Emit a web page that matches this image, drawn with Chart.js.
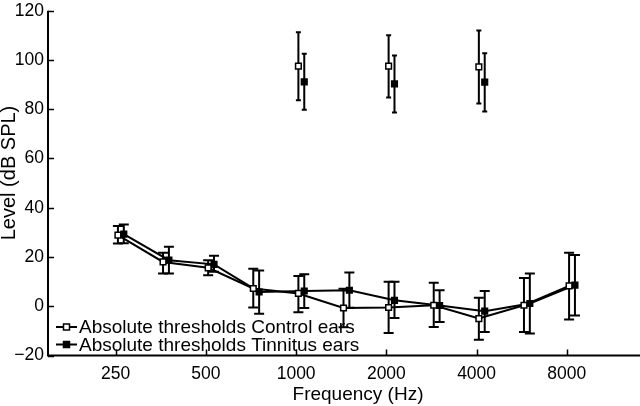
<!DOCTYPE html>
<html>
<head>
<meta charset="utf-8">
<script src="https://cdn.jsdelivr.net/npm/chart.js@4"></script>
<style>
  html, body { margin: 0; padding: 0; background: #fff; }
</style>
</head>
<body>
<canvas id="thresholdChart" width="640" height="406"></canvas>
<script>
// test frequencies (plotted by position index)
const freqs = ["250", "375", "500", "750", "1000", "1500", "2000", "3000", "4000", "6000", "8000"];

const controlMean = [28.9, 18.0, 15.6, 7.2, 5.2, -0.7, -0.5, 0.4, -5.0, 0.4, 8.3];
const controlLow = [25.5, 13.3, 12.6, -0.5, -2.4, -8.5, -10.9, -8.4, -13.6, -10.5, -5.4];
const controlHigh = [32.6, 21.7, 18.7, 15.2, 12.3, 7.1, 9.9, 9.5, 3.4, 11.5, 21.7];

const tinnitusMean = [29.3, 18.7, 17.0, 5.8, 6.2, 6.5, 2.4, 0.3, -2.0, 1.1, 8.6];
const tinnitusLow = [25.6, 13.3, 14.0, -3.0, -0.7, -0.6, -4.8, -6.4, -10.5, -11.1, -3.8];
const tinnitusHigh = [33.2, 24.2, 20.5, 14.5, 13.0, 13.7, 9.9, 6.5, 6.2, 13.3, 20.8];

// upper points at 1000, 2000, 4000 Hz
const upperIdx = [4, 6, 8];
const controlUpperMean = [97.5, 97.5, 97.2];
const controlUpperLow = [83.6, 84.8, 82.3];
const controlUpperHigh = [111.3, 110.0, 112.0];
const tinnitusUpperMean = [91.1, 90.3, 91.0];
const tinnitusUpperLow = [79.8, 78.7, 79.1];
const tinnitusUpperHigh = [102.5, 101.8, 102.7];

const tickLabels = ["250", "500", "1000", "2000", "4000", "8000"];
const yTicks = [-20, 0, 20, 40, 60, 80, 100, 120];

const xTitle = "Frequency (Hz)";
const yTitle = "Level (dB SPL)";

const CONTROL_SHIFT = 0.05;
const TINNITUS_SHIFT = 0.18;
// each labelled octave sits on an even index
const tickPos = tickLabels.map(f => freqs.indexOf(f));

const FONT = "'Liberation Sans', Arial, Helvetica, sans-serif";

function pts(idx, ys, lo, hi, shift) {
  return ys.map((y, i) => ({ x: idx[i] + shift, y: y, lo: lo[i], hi: hi[i] }));
}
const allIdx = freqs.map((f, i) => i);

const errorBars = {
  id: "errorBars",
  beforeDatasetsDraw(chart) {
    const ctx = chart.ctx;
    const ys = chart.scales.y;
    ctx.save();
    ctx.strokeStyle = "#000";
    ctx.lineWidth = 2;
    chart.data.datasets.forEach((ds, di) => {
      const meta = chart.getDatasetMeta(di);
      meta.data.forEach((el, i) => {
        const p = ds.data[i];
        const x = el.x;
        const top = ys.getPixelForValue(p.hi);
        const bot = ys.getPixelForValue(p.lo);
        const cap = ds.capWidth;
        ctx.beginPath();
        ctx.moveTo(x, top); ctx.lineTo(x, bot);
        ctx.moveTo(x - cap, top); ctx.lineTo(x + cap, top);
        ctx.moveTo(x - cap, bot); ctx.lineTo(x + cap, bot);
        ctx.stroke();
      });
    });
    ctx.restore();
  }
};

// left and bottom axis lines, inward ticks, axis titles
const axisExtras = {
  id: "axisExtras",
  afterDraw(chart) {
    const ctx = chart.ctx;
    const xs = chart.scales.x, ys = chart.scales.y;
    const area = chart.chartArea;
    ctx.save();
    ctx.strokeStyle = "#000";
    ctx.lineWidth = 2;
    ctx.beginPath();
    ctx.moveTo(area.left, area.top);
    ctx.lineTo(area.left, area.bottom);
    ctx.lineTo(chart.width, area.bottom);
    ctx.stroke();

    ctx.lineWidth = 1.5;
    ctx.beginPath();
    xs.ticks.forEach(t => {
      const px = Math.round(xs.getPixelForValue(t.value)) + 0.5;
      ctx.moveTo(px, area.bottom); ctx.lineTo(px, area.bottom - 6);
    });
    ys.ticks.forEach(t => {
      const py = Math.round(ys.getPixelForValue(t.value)) + 0.5;
      ctx.moveTo(area.left, py); ctx.lineTo(area.left + 6, py);
    });
    ctx.stroke();

    ctx.fillStyle = "#000";
    ctx.font = "19px " + FONT;
    ctx.textAlign = "center";
    ctx.textBaseline = "alphabetic";
    ctx.fillText(xTitle, 358, 400);
    ctx.translate(15, 173);
    ctx.rotate(-Math.PI / 2);
    ctx.font = "20px " + FONT;
    ctx.fillText(yTitle, 0, 0);
    ctx.restore();
  }
};

const insideLegend = {
  id: "insideLegend",
  afterDraw(chart) {
    const ctx = chart.ctx;
    const rows = [chart.data.datasets[0], chart.data.datasets[1]];
    ctx.save();
    ctx.font = "19px " + FONT;
    ctx.textBaseline = "middle";
    rows.forEach((ds, i) => {
      const y = 327 + i * 17.5;
      ctx.strokeStyle = "#000";
      ctx.lineWidth = 2;
      ctx.beginPath();
      ctx.moveTo(56, y); ctx.lineTo(77, y);
      ctx.stroke();
      ctx.fillStyle = ds.pointBackgroundColor;
      ctx.fillRect(63, y - 3.5, 7, 7);
      ctx.lineWidth = 1.5;
      ctx.strokeRect(63.5, y - 3, 6, 6);
      ctx.fillStyle = "#000";
      ctx.fillText(ds.label, 79, y + 1);
    });
    ctx.restore();
  }
};

const seriesStyle = (fill, line) => ({
  showLine: line,
  borderColor: "#000",
  borderWidth: 2,
  pointStyle: "rect",
  pointRadius: 4,
  pointBorderWidth: 1.5,
  pointBorderColor: "#000",
  pointBackgroundColor: fill,
  pointHoverRadius: 4
});

new Chart(document.getElementById("thresholdChart"), {
  type: "scatter",
  data: {
    datasets: [
      Object.assign({
        label: "Absolute thresholds Control ears",
        data: pts(allIdx, controlMean, controlLow, controlHigh, CONTROL_SHIFT),
        capWidth: 5
      }, seriesStyle("#fff", true)),
      Object.assign({
        label: "Absolute thresholds Tinnitus ears",
        data: pts(allIdx, tinnitusMean, tinnitusLow, tinnitusHigh, TINNITUS_SHIFT),
        capWidth: 5
      }, seriesStyle("#000", true)),
      Object.assign({
        label: "Control upper",
        data: pts(upperIdx, controlUpperMean, controlUpperLow, controlUpperHigh, CONTROL_SHIFT),
        capWidth: 2.5
      }, seriesStyle("#fff", false)),
      Object.assign({
        label: "Tinnitus upper",
        data: pts(upperIdx, tinnitusUpperMean, tinnitusUpperLow, tinnitusUpperHigh, TINNITUS_SHIFT),
        capWidth: 2.5
      }, seriesStyle("#000", false))
    ]
  },
  options: {
    responsive: false,
    animation: false,
    devicePixelRatio: 1,
    layout: { padding: { top: 10.7, right: 0, left: 0, bottom: 0 } },
    plugins: {
      legend: { display: false },
      tooltip: { enabled: false }
    },
    scales: {
      x: {
        type: "linear",
        min: -1.5,
        max: 11.5,
        afterBuildTicks: s => { s.ticks = tickPos.map(v => ({ value: v })); },
        afterFit: s => { s.height = 50.5; s.paddingLeft = 0; s.paddingRight = 0; },
        grid: { display: false, drawTicks: false },
        border: { display: false },
        ticks: {
          autoSkip: false,
          maxRotation: 0,
          padding: 8,
          color: "#000",
          font: { family: FONT, size: 17.5 },
          callback: (v, i) => tickLabels[i]
        }
      },
      y: {
        min: -20,
        max: 120,
        afterBuildTicks: s => { s.ticks = yTicks.map(v => ({ value: v })); },
        afterFit: s => { s.width = 48; s.paddingTop = 0; s.paddingBottom = 0; },
        grid: { display: false, drawTicks: false },
        border: { display: false },
        ticks: {
          padding: 4,
          color: "#000",
          font: { family: FONT, size: 17.5 },
          callback: v => (v < 0 ? "\u2212" + Math.abs(v) : String(v))
        }
      }
    }
  },
  plugins: [errorBars, axisExtras, insideLegend]
});
</script>
</body>
</html>
